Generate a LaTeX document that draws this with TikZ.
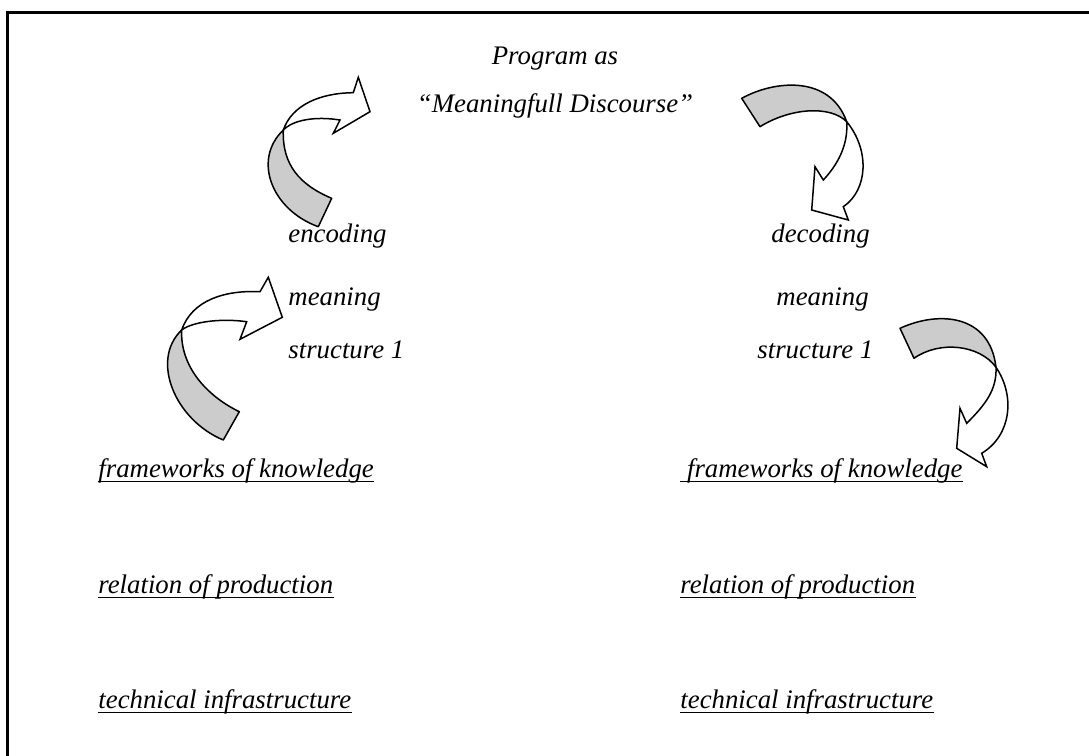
\documentclass[tikz,border=0pt]{standalone}
\usepackage{fontspec}
\setmainfont{Liberation Serif}
\usetikzlibrary{positioning}
\tikzset{word/.style={font=\fontsize{13.4}{16}\selectfont\itshape,inner sep=0pt,anchor=base west},
         title/.style={word,anchor=base},
         underline/.style={line width=0.9pt},
         backside/.style={draw=black,fill=black!20,line width=0.75pt,line join=round},
         frontside/.style={draw=black,fill=white,line width=0.75pt,line join=miter}
}
\begin{document}
\begin{tikzpicture}[x=0.5pt,y=-0.5pt]
\useasboundingbox (0,0) rectangle (1089,756);
% frame
\draw[line width=1.5pt] (7,12) rectangle (1100,770);
% texts
\node[title] (prog) at (555,64) {Program as};
\node[title] (disc) at (555,112) {``Meaningfull Discourse''};
\node[word] (enc) at (288,242) {encoding};
\node[word] (encm) at (288,305) {meaning};
\node[word] (encs) at (288,358) {structure 1};
\node[word] (dec) at (771,242) {decoding};
\node[word] (decm) at (776,305) {meaning};
\node[word] (decs) at (757,358) {structure 1};
\node[word] (fkl) at (98,477) {frameworks of knowledge};
\node[word] (rpl) at (98,593) {relation of production};
\node[word] (til) at (98,708) {technical infrastructure};
\node[word] (fkr) at (680,477) {\ frameworks of knowledge};
\node[word] (rpr) at (680,593) {relation of production};
\node[word] (tir) at (680,708) {technical infrastructure};
\foreach \n in {fkl,rpl,til,fkr,rpr,tir}
    \draw[underline] ([yshift=-2.2pt]\n.base west) -- ([yshift=-2.2pt]\n.base east);
% upper left arrow
\draw[backside] (318.3,226.7) .. controls (272,210) and (252,160) .. (283.3,130)
    .. controls (282,165) and (300,185) .. (331.7,198.3) -- cycle;
\draw[frontside] (283.3,130) .. controls (292,105) and (320,93) .. (353.3,92.7)
    -- (358.3,77.3) -- (370,111.7) -- (333.3,133.3) -- (340,120)
    .. controls (315,116) and (293,120) .. (283.3,130) -- cycle;
% lower left arrow
\draw[backside] (223.3,440) .. controls (175,420) and (150,360) .. (181.7,330)
    .. controls (180,365) and (205,395) .. (239.3,411.7) -- cycle;
\draw[frontside] (181.7,330) .. controls (192,300) and (225,290) .. (260,291.7)
    -- (268.3,277.3) -- (282.3,317.3) -- (240,339.3) -- (246.7,321.7)
    .. controls (220,318) and (192,322) .. (181.7,330) -- cycle;
% upper right arrow
\draw[backside] (741.7,98.3) .. controls (775,80) and (830,75) .. (846.7,121.7)
    .. controls (830,105) and (790,108) .. (760,126.7) -- cycle;
\draw[frontside] (846.7,121.7) .. controls (870,150) and (868,190) .. (843.3,206.7)
    -- (848.3,220) -- (811.7,210) -- (815,166.7) -- (823.3,180)
    .. controls (842,160) and (848,140) .. (846.7,121.7) -- cycle;
% lower right arrow
\draw[backside] (900,328.3) .. controls (940,310) and (990,315) .. (996,367.3)
    .. controls (980,345) and (940,340) .. (914,358.3) -- cycle;
\draw[frontside] (996,367.3) .. controls (1015,395) and (1012,435) .. (981.7,453.3)
    -- (986.7,466.7) -- (956.7,448.3) -- (960,408.3) -- (966.7,423.3)
    .. controls (985,405) and (997,390) .. (996,367.3) -- cycle;
\end{tikzpicture}
\end{document}
